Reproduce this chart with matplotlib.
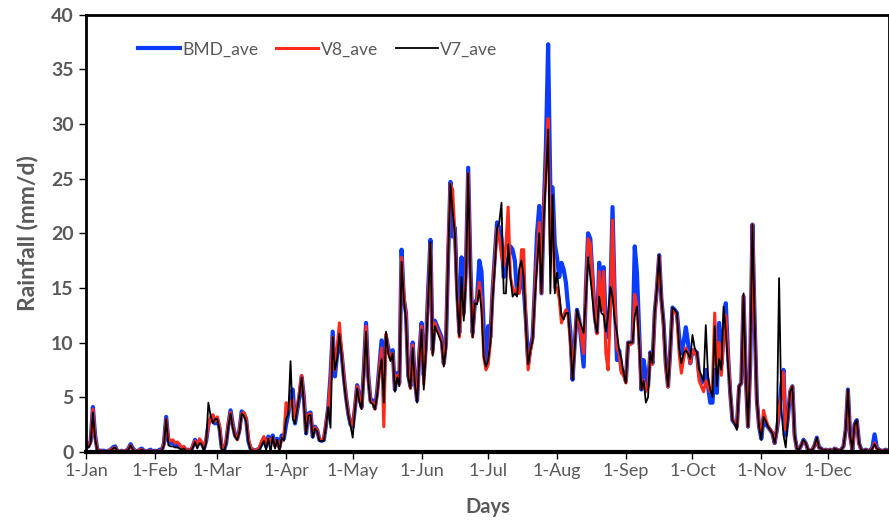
import numpy as np
import matplotlib.pyplot as plt

plt.rcParams["font.family"] = ["Lato", "DejaVu Sans"]

month_labels = ["1-Jan", "1-Feb", "1-Mar", "1-Apr", "1-May", "1-Jun",
                "1-Jul", "1-Aug", "1-Sep", "1-Oct", "1-Nov", "1-Dec"]
month_start_day = [0, 31, 59, 90, 120, 151, 181, 212, 243, 273, 304, 334]

# daily rainfall (mm/d), Jan 1 .. Dec 31
bmd_ave = [
    # Jan
    0.6, 0.5, 1.0, 4.1, 1.5, 0.2, 0.1, 0.1, 0.1, 0.0,
    0.1, 0.2, 0.4, 0.5, 0.1, 0.0, 0.1, 0.0, 0.1, 0.3,
    0.7, 0.3, 0.1, 0.0, 0.2, 0.3, 0.1, 0.0, 0.1, 0.2,
    0.0,
    # Feb
    0.1, 0.0, 0.2, 0.1, 0.8, 3.2, 1.0, 0.8, 0.9, 0.6,
    0.7, 0.5, 0.3, 0.4, 0.1, 0.2, 0.0, 0.5, 1.1, 0.6,
    1.0, 0.8, 0.3, 1.0, 2.5, 3.0, 3.3, 2.6,
    # Mar
    3.0, 2.2, 0.4, 0.1, 0.8, 2.5, 3.8, 2.5, 1.5, 1.2,
    2.0, 3.7, 3.5, 3.0, 1.0, 0.3, 0.2, 0.1, 0.2, 0.3,
    0.8, 1.2, 0.5, 1.4, 0.9, 1.5, 0.6, 1.2, 0.4, 1.5,
    1.2,
    # Apr
    2.5, 3.5, 5.0, 5.7, 2.6, 3.8, 5.0, 6.9, 5.0, 1.7,
    3.5, 3.6, 1.4, 2.3, 2.0, 1.1, 1.0, 1.1, 2.5, 4.1,
    7.0, 11.0, 6.9, 9.0, 10.5, 9.0, 6.9, 5.0, 3.5, 2.5,
    # May
    2.3, 4.0, 6.1, 5.0, 4.1, 7.5, 11.8, 7.0, 4.7, 4.7,
    4.0, 5.5, 7.8, 10.2, 6.5, 10.5, 9.5, 8.7, 9.3, 5.7,
    7.2, 6.3, 18.5, 14.0, 12.7, 7.0, 6.0, 10.0, 6.5, 4.7,
    9.0,
    # Jun
    11.8, 7.0, 10.0, 15.0, 19.4, 9.3, 12.0, 11.5, 11.0, 10.5,
    8.1, 10.0, 18.0, 24.7, 19.7, 20.5, 15.0, 10.9, 17.8, 12.7,
    17.0, 26.0, 17.0, 10.9, 13.6, 14.0, 17.5, 16.5, 11.2, 8.4,
    # Jul
    11.5, 10.5, 14.8, 18.0, 21.0, 20.5, 19.5, 16.0, 17.0, 17.5,
    18.8, 18.5, 17.5, 14.5, 14.8, 16.5, 15.0, 12.0, 8.1, 9.5,
    10.5, 15.0, 20.0, 22.5, 14.5, 22.0, 28.0, 37.3, 24.0, 24.2,
    19.0,
    # Aug
    17.8, 16.0, 17.3, 16.7, 15.5, 13.3, 11.0, 6.6, 10.0, 13.0,
    12.1, 10.0, 7.8, 15.0, 20.0, 19.5, 16.0, 12.5, 10.9, 17.3,
    13.0, 16.9, 11.4, 10.5, 14.0, 22.4, 14.0, 8.4, 9.3, 7.5,
    7.2,
    # Sep
    6.5, 10.0, 10.0, 10.0, 18.8, 16.4, 11.0, 5.7, 8.4, 7.0,
    6.0, 9.1, 8.1, 12.7, 15.0, 18.0, 14.0, 11.8, 8.0, 6.0,
    9.3, 13.2, 13.0, 12.7, 10.5, 9.0, 10.0, 11.4, 10.0, 8.1,
    # Oct
    9.3, 9.0, 9.1, 7.0, 6.3, 6.5, 7.5, 6.0, 4.5, 4.5,
    7.5, 5.4, 11.8, 8.0, 11.0, 13.6, 9.0, 5.4, 2.9, 2.6,
    2.3, 6.0, 6.3, 14.2, 7.0, 2.3, 8.0, 20.8, 12.0, 4.7,
    2.3,
    # Nov
    1.2, 3.0, 2.5, 2.3, 2.0, 1.7, 0.8, 2.0, 3.5, 6.0,
    7.5, 1.5, 3.2, 5.5, 6.0, 1.5, 0.3, 0.2, 0.6, 1.1,
    0.8, 0.2, 0.1, 0.2, 0.6, 1.3, 0.4, 0.3, 0.1, 0.2,
    # Dec
    0.1, 0.2, 0.0, 0.3, 0.2, 0.1, 0.2, 0.5, 2.0, 5.7,
    1.5, 0.2, 2.5, 2.9, 0.8, 0.2, 0.1, 0.2, 0.1, 0.1,
    0.4, 1.6, 0.4, 0.2, 0.1, 0.1, 0.2, 0.1, 0.1, 0.0,
    0.1,
]

v8_ave = [
    # Jan
    0.5, 0.5, 0.9, 3.9, 1.3, 0.2, 0.1, 0.1, 0.0, 0.0,
    0.1, 0.2, 0.3, 0.4, 0.1, 0.0, 0.1, 0.0, 0.1, 0.3,
    0.6, 0.2, 0.1, 0.0, 0.2, 0.2, 0.1, 0.0, 0.1, 0.1,
    0.0,
    # Feb
    0.1, 0.0, 0.1, 0.1, 0.7, 3.0, 1.2, 1.0, 1.1, 0.8,
    0.9, 0.7, 0.4, 0.5, 0.1, 0.2, 0.0, 0.6, 1.0, 0.5,
    1.2, 0.9, 0.3, 1.1, 2.4, 3.2, 3.4, 2.8,
    # Mar
    3.2, 2.4, 0.5, 0.2, 0.9, 2.6, 3.6, 2.4, 1.5, 1.1,
    2.0, 3.5, 3.6, 3.1, 1.2, 0.4, 0.2, 0.1, 0.2, 0.4,
    1.0, 1.4, 0.6, 1.2, 1.0, 1.3, 0.5, 1.0, 0.3, 1.2,
    1.4,
    # Apr
    4.5, 3.8, 4.5, 4.8, 3.0, 4.0, 5.5, 7.0, 4.8, 1.8,
    3.4, 3.5, 1.5, 2.2, 2.0, 1.2, 1.1, 1.2, 2.6, 4.0,
    6.5, 10.5, 7.5, 9.5, 11.8, 9.2, 6.9, 5.0, 3.6, 2.6,
    # May
    2.4, 4.1, 6.0, 4.8, 4.0, 7.2, 11.5, 6.8, 4.6, 4.5,
    3.9, 5.3, 7.5, 9.5, 2.3, 10.8, 9.2, 8.5, 9.0, 5.8,
    7.0, 6.2, 17.8, 14.5, 12.5, 7.2, 5.8, 9.8, 6.3, 4.8,
    8.8,
    # Jun
    11.5, 6.2, 9.8, 14.5, 19.0, 9.0, 11.8, 11.2, 10.8, 10.2,
    8.0, 9.8, 18.5, 24.5, 24.0, 20.0, 14.5, 10.5, 14.0, 12.5,
    16.5, 25.5, 16.5, 10.5, 13.5, 13.8, 15.5, 14.0, 8.7, 7.5,
    # Jul
    8.0, 10.0, 14.5, 17.5, 20.5, 19.5, 18.0, 17.0, 19.0, 22.4,
    16.0, 15.0, 14.5, 15.0, 14.5, 18.5, 18.5, 11.5, 7.5, 9.2,
    10.2, 14.5, 18.0, 21.0, 14.5, 22.0, 26.0, 30.5, 18.0, 22.0,
    15.0,
    # Aug
    15.0, 14.0, 11.8, 12.5, 13.0, 12.5, 10.0, 6.8, 10.0, 12.8,
    12.0, 10.5, 9.0, 14.5, 19.5, 19.0, 16.0, 12.3, 10.8, 16.5,
    13.0, 16.5, 9.0, 7.5, 13.0, 21.2, 14.0, 9.5, 9.0, 7.2,
    7.0,
    # Sep
    6.3, 10.0, 9.8, 10.0, 14.4, 13.3, 10.0, 5.8, 6.5, 5.5,
    6.0, 9.0, 8.0, 12.5, 15.0, 17.9, 14.0, 11.5, 7.8, 5.9,
    9.2, 13.0, 12.8, 12.5, 9.0, 7.2, 8.5, 9.5, 9.0, 8.1,
    # Oct
    9.3, 9.0, 9.0, 6.5, 6.0, 5.5, 6.5, 6.0, 5.5, 6.0,
    12.7, 8.0, 10.0, 7.0, 10.0, 12.5, 9.0, 5.5, 3.0, 2.7,
    2.2, 6.0, 6.3, 14.3, 6.8, 2.3, 8.0, 20.8, 12.0, 4.7,
    2.3,
    # Nov
    1.5, 3.8, 3.0, 2.4, 2.0, 1.8, 0.8, 2.0, 4.0, 5.0,
    7.3, 2.0, 3.3, 5.6, 6.0, 1.4, 0.3, 0.2, 0.6, 1.0,
    0.8, 0.2, 0.1, 0.2, 0.6, 1.2, 0.4, 0.3, 0.1, 0.2,
    # Dec
    0.1, 0.2, 0.0, 0.3, 0.2, 0.1, 0.2, 0.5, 2.0, 5.6,
    1.4, 0.2, 2.4, 2.8, 0.7, 0.2, 0.1, 0.2, 0.1, 0.1,
    0.3, 0.8, 0.3, 0.2, 0.1, 0.1, 0.2, 0.1, 0.1, 0.0,
    0.1,
]

v7_ave = [
    # Jan
    0.4, 0.4, 0.8, 3.6, 1.2, 0.1, 0.1, 0.1, 0.0, 0.0,
    0.1, 0.1, 0.3, 0.4, 0.1, 0.0, 0.0, 0.0, 0.1, 0.2,
    0.6, 0.2, 0.0, 0.0, 0.1, 0.2, 0.1, 0.0, 0.1, 0.1,
    0.0,
    # Feb
    0.1, 0.0, 0.1, 0.1, 0.6, 3.0, 0.6, 0.5, 0.5, 0.4,
    0.4, 0.3, 0.2, 0.3, 0.1, 0.1, 0.0, 0.4, 0.9, 0.3,
    0.8, 0.7, 0.1, 0.8, 4.5, 3.3, 2.6, 3.0,
    # Mar
    3.0, 2.0, 0.2, 0.1, 0.7, 2.3, 3.5, 2.2, 1.4, 1.1,
    1.8, 3.5, 3.3, 2.8, 0.9, 0.2, 0.1, 0.0, 0.1, 0.2,
    0.6, 1.0, 0.2, 1.2, 0.0, 1.4, 0.3, 1.1, 0.1, 1.3,
    1.0,
    # Apr
    3.0, 3.5, 8.3, 3.0, 2.6, 3.9, 5.2, 6.8, 4.5, 1.6,
    3.3, 3.4, 1.3, 2.1, 1.9, 1.0, 1.0, 1.0, 2.4, 4.1,
    2.2, 10.5, 7.5, 8.5, 10.8, 8.8, 6.5, 4.8, 3.4, 2.4,
    # May
    1.3, 3.8, 5.8, 4.6, 3.9, 7.0, 11.0, 6.5, 4.5, 4.4,
    3.9, 5.2, 7.2, 8.5, 4.5, 11.0, 9.0, 8.3, 9.0, 5.5,
    6.8, 6.0, 17.4, 14.0, 12.0, 6.8, 5.8, 9.5, 6.2, 4.5,
    8.5,
    # Jun
    11.2, 5.7, 9.5, 14.0, 19.2, 8.8, 11.5, 11.0, 10.5, 10.0,
    7.8, 9.5, 18.0, 24.5, 22.0, 20.0, 14.0, 10.6, 16.0, 12.0,
    16.0, 25.5, 16.0, 10.5, 13.6, 13.5, 14.8, 13.0, 8.7, 7.8,
    # Jul
    8.4, 10.0, 14.0, 17.0, 20.5, 21.0, 22.8, 14.5, 14.5, 19.0,
    16.0, 14.2, 14.5, 14.2, 16.8, 17.5, 16.0, 11.5, 8.0, 9.3,
    10.2, 14.0, 17.0, 20.0, 14.5, 21.0, 25.0, 29.5, 14.5, 23.5,
    14.5,
    # Aug
    16.4, 14.5, 12.5, 12.1, 12.7, 12.7, 10.0, 6.6, 9.5, 13.0,
    12.1, 11.5, 10.9, 14.0, 17.8, 16.0, 14.0, 12.0, 10.9, 14.2,
    12.7, 12.5, 11.0, 12.5, 15.1, 14.2, 12.0, 10.9, 9.3, 8.5,
    7.2,
    # Sep
    6.3, 10.0, 10.0, 10.0, 12.4, 13.3, 10.0, 5.7, 6.5, 4.5,
    5.0, 9.1, 8.1, 12.7, 15.0, 18.0, 14.0, 11.8, 8.0, 6.0,
    9.3, 13.2, 13.0, 12.7, 9.5, 8.1, 9.0, 9.3, 9.0, 8.5,
    # Oct
    10.7, 9.5, 9.1, 7.5, 7.0, 6.5, 11.6, 7.0, 5.7, 5.0,
    11.5, 6.0, 8.5, 7.5, 13.3, 11.0, 8.0, 5.4, 2.9, 2.6,
    2.0, 6.0, 6.3, 14.5, 7.0, 2.3, 8.0, 20.8, 12.0, 4.7,
    2.3,
    # Nov
    1.1, 3.2, 2.8, 2.3, 2.0, 1.7, 0.8, 2.0, 15.9, 4.0,
    1.5, 0.4, 3.2, 5.5, 6.0, 1.5, 0.3, 0.2, 0.6, 1.1,
    0.8, 0.2, 0.1, 0.2, 0.6, 1.3, 0.4, 0.3, 0.1, 0.2,
    # Dec
    0.1, 0.2, 0.0, 0.3, 0.2, 0.1, 0.2, 0.5, 2.0, 5.7,
    1.5, 0.2, 2.5, 2.9, 0.8, 0.2, 0.1, 0.2, 0.1, 0.1,
    0.3, 0.7, 0.3, 0.2, 0.1, 0.1, 0.2, 0.1, 0.1, 0.0,
    0.1,
]

text_color = "#595959"

fig = plt.figure(figsize=(8.89, 5.26), dpi=100)
ax = fig.add_axes([0.097, 0.141, 0.903, 0.831])

ax.plot(np.arange(len(bmd_ave)), bmd_ave, color="#0a3cff", linewidth=3.0, label="BMD_ave")
ax.plot(np.arange(len(v8_ave)), v8_ave, color="#ff2a1a", linewidth=2.2, label="V8_ave")
ax.plot(np.arange(len(v7_ave)), v7_ave, color="black", linewidth=1.3, label="V7_ave")

ax.set_xlim(0, 361.5)
ax.set_ylim(0, 40)
ax.set_yticks(np.arange(0, 41, 5))
ax.set_xticks(month_start_day)
ax.set_xticklabels(month_labels)

ax.tick_params(axis="x", colors="black", labelcolor=text_color, labelsize=13,
               length=5, width=1, direction="out", pad=3)
ax.tick_params(axis="y", colors="black", labelcolor=text_color, labelsize=14,
               length=5, width=1, direction="out", pad=4)
for lbl in ax.get_yticklabels():
    lbl.set_fontweight("bold")

for side in ["left", "top", "right"]:
    ax.spines[side].set_linewidth(2.0)
ax.spines["bottom"].set_linewidth(3.0)

ax.set_xlabel("Days", color=text_color, fontsize=14.5, fontweight="bold", labelpad=13)
ax.set_ylabel("Rainfall (mm/d)", color=text_color, fontsize=16.5, fontweight="bold", labelpad=9)

leg = ax.legend(loc="upper left", bbox_to_anchor=(0.045, 0.975), ncol=3, frameon=False,
                fontsize=12.6, handlelength=2.4, columnspacing=1.0, handletextpad=0.15)
for t in leg.get_texts():
    t.set_color(text_color)

fig.savefig("out.png", dpi=100)
